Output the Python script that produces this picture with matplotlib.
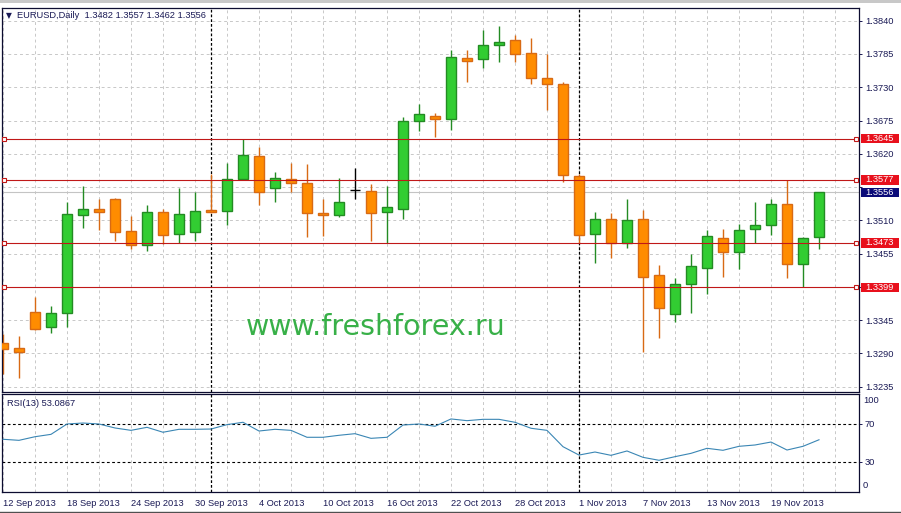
import matplotlib
matplotlib.use('Agg')
import matplotlib.pyplot as plt
from matplotlib.patches import Rectangle
from matplotlib.lines import Line2D
from matplotlib.transforms import IdentityTransform

# ---------------- data ----------------
header_symbol = "EURUSD,Daily"
header_ohlc = "1.3482 1.3557 1.3462 1.3556"
rsi_title = "RSI(13) 53.0867"
watermark = "www.freshforex.ru"

opens = [1.3307, 1.3299, 1.3358, 1.3333, 1.3356, 1.3518, 1.3528, 1.3546, 1.3492, 1.3470,
         1.3523, 1.3487, 1.3491, 1.3527, 1.3525, 1.3578, 1.3616, 1.3564, 1.3578, 1.3571,
         1.3522, 1.3518, 1.3560, 1.3558, 1.3523, 1.3529, 1.3674, 1.3682, 1.3678, 1.3778,
         1.3776, 1.3799, 1.3808, 1.3786, 1.3745, 1.3735, 1.3584, 1.3487, 1.3513, 1.3472,
         1.3512, 1.3419, 1.3355, 1.3404, 1.3432, 1.3480, 1.3457, 1.3495, 1.3502, 1.3537,
         1.3437, 1.3482]
highs = [1.3322, 1.3319, 1.3384, 1.3368, 1.3541, 1.3567, 1.3546, 1.3547, 1.3517, 1.3535,
         1.3529, 1.3564, 1.3556, 1.3587, 1.3605, 1.3644, 1.3632, 1.3590, 1.3605, 1.3603,
         1.3545, 1.3580, 1.3596, 1.3570, 1.3567, 1.3680, 1.3702, 1.3687, 1.3792, 1.3792,
         1.3825, 1.3831, 1.3816, 1.3811, 1.3785, 1.3739, 1.3586, 1.3523, 1.3522, 1.3546,
         1.3527, 1.3436, 1.3415, 1.3454, 1.3494, 1.3495, 1.3504, 1.3540, 1.3545, 1.3576,
         1.3483, 1.3557]
lows = [1.3256, 1.3250, 1.3328, 1.3323, 1.3334, 1.3498, 1.3494, 1.3476, 1.3462, 1.3460,
        1.3471, 1.3473, 1.3475, 1.3522, 1.3502, 1.3577, 1.3535, 1.3541, 1.3556, 1.3483,
        1.3484, 1.3516, 1.3545, 1.3476, 1.3472, 1.3512, 1.3658, 1.3648, 1.3659, 1.3739,
        1.3762, 1.3772, 1.3772, 1.3735, 1.3692, 1.3574, 1.3473, 1.3440, 1.3447, 1.3465,
        1.3293, 1.3315, 1.3342, 1.3356, 1.3388, 1.3416, 1.3429, 1.3473, 1.3485, 1.3414,
        1.3399, 1.3462]
closes = [1.3297, 1.3292, 1.3331, 1.3356, 1.3520, 1.3528, 1.3523, 1.3490, 1.3470, 1.3523,
          1.3485, 1.3520, 1.3525, 1.3523, 1.3578, 1.3618, 1.3556, 1.3580, 1.3571, 1.3522,
          1.3518, 1.3541, 1.3560, 1.3522, 1.3532, 1.3674, 1.3685, 1.3678, 1.3780, 1.3774,
          1.3799, 1.3804, 1.3785, 1.3745, 1.3735, 1.3585, 1.3485, 1.3512, 1.3472, 1.3510,
          1.3416, 1.3365, 1.3404, 1.3434, 1.3484, 1.3457, 1.3494, 1.3503, 1.3537, 1.3437,
          1.3480, 1.3556]
rsi = [53.6, 52.5, 56.3, 58.8, 69.7, 70.7, 69.7, 65.5, 63.0, 66.2,
       61.0, 64.1, 64.1, 64.4, 69.0, 71.5, 62.3, 64.1, 63.0, 55.7,
       55.7, 57.8, 59.5, 54.6, 55.7, 68.6, 69.7, 67.3, 75.0, 73.2,
       74.6, 74.6, 71.5, 65.2, 63.0, 45.8, 37.0, 40.2, 36.7, 41.3,
       34.6, 31.5, 35.3, 38.8, 44.1, 42.0, 46.2, 47.6, 50.7, 42.3,
       46.2, 53.09]
date_labels = ["12 Sep 2013", "18 Sep 2013", "24 Sep 2013", "30 Sep 2013", "4 Oct 2013",
               "10 Oct 2013", "16 Oct 2013", "22 Oct 2013", "28 Oct 2013", "1 Nov 2013",
               "7 Nov 2013", "13 Nov 2013", "19 Nov 2013"]
label_every = 4          # bars between date labels
month_start_bars = [13, 36]
levels = [1.3645, 1.3577, 1.3473, 1.3399]
last_price = 1.3556
price_ticks = [1.3840, 1.3785, 1.3730, 1.3675, 1.3620, 1.3565, 1.3510, 1.3455,
               1.3400, 1.3345, 1.3290, 1.3235]
hidden_ticks = [1.3565, 1.3400]   # covered by the price boxes in the terminal
rsi_levels = [70, 30]

# ---------------- style ----------------
NAVY = '#1a1a55'
GRID = '#c8c8c8'
BULL_FACE, BULL_EDGE = '#32cd32', '#238b23'
BEAR_FACE, BEAR_EDGE = '#ff8c00', '#d86a14'
RED_LINE = '#c01818'
RED_BOX = '#e8101c'
FONT = ['Liberation Sans', 'DejaVu Sans']
FS = 6.7

plt.rcParams['font.family'] = FONT

W, H = 901, 513
fig = plt.figure(figsize=(W / 100, H / 100), dpi=100)
fig.patch.set_facecolor('white')

L, R = 1.5, 859.0
TOP, MAIN_BOT, RSI_TOP, RSI_BOT = 7.5, 392.0, 394.0, 492.3
ax = fig.add_axes([L / W, 1 - MAIN_BOT / H, (R - L) / W, (MAIN_BOT - TOP) / H])
axr = fig.add_axes([L / W, 1 - RSI_BOT / H, (R - L) / W, (RSI_BOT - RSI_TOP) / H])

n = len(opens)
xs = list(range(n))
xmin, xmax = (L - 3) / 16, (R - 3) / 16
for a in (ax, axr):
    a.set_xlim(xmin, xmax)
    a.set_facecolor('white')
    for s in a.spines.values():
        s.set_color('#0c0c30')
        s.set_linewidth(0.9)

ax.set_ylim(1.32262, 1.38618)
axr.set_ylim(-2.2, 101.26)

# grid
grid_x = list(range(0, int(xmax) + 1, 2))
ax.set_xticks(grid_x)
ax.set_yticks(price_ticks)
ax.set_yticklabels(['' if t in hidden_ticks else f'{t:.4f}' for t in price_ticks])
ax.grid(True, color=GRID, linestyle=(0, (3, 3)), linewidth=0.7, zorder=0)
ax.set_axisbelow(True)
ax.tick_params(axis='x', length=0, labelbottom=False)
ax.yaxis.tick_right()
ax.tick_params(axis='y', right=True, left=False, length=2.2, width=0.7, color=NAVY,
               labelsize=FS, labelcolor=NAVY, pad=2.2)

axr.set_xticks(grid_x)
xl = []
for g in grid_x:
    if g % label_every == 0 and g // label_every < len(date_labels):
        xl.append(date_labels[g // label_every])
    else:
        xl.append('')
axr.set_xticklabels(xl)
for lb in axr.get_xticklabels():
    lb.set_horizontalalignment('left')
axr.tick_params(axis='x', length=0, labelsize=FS, labelcolor=NAVY, pad=4.5)
axr.xaxis.grid(True, color=GRID, linestyle=(0, (3, 3)), linewidth=0.7, zorder=0)
axr.set_axisbelow(True)
axr.yaxis.tick_right()
axr.set_yticks(rsi_levels)
axr.set_yticklabels([str(v) for v in rsi_levels])
axr.tick_params(axis='y', right=True, left=False, length=2.2, width=0.7, color=NAVY,
                labelsize=FS, labelcolor=NAVY, pad=1.5)
axr.text(1.0045, 0.932, '100', transform=axr.transAxes, ha='left', va='center',
         fontsize=FS, color=NAVY, clip_on=False)
axr.text(1.0045, 0.067, '0', transform=axr.transAxes, ha='left', va='center',
         fontsize=FS, color=NAVY, clip_on=False)

# month separators
for m in month_start_bars:
    for a in (ax, axr):
        a.axvline(m, color='black', linestyle=(0, (2.2, 1.6)), linewidth=0.9, zorder=1)

# bid line
ax.axhline(last_price, color='#c4c4c4', linewidth=0.8, zorder=1)

# candles
bw = 0.62
for i in xs:
    o, h, l, c = opens[i], highs[i], lows[i], closes[i]
    if c > o:
        face, edge = BULL_FACE, BULL_EDGE
    elif c < o:
        face, edge = BEAR_FACE, BEAR_EDGE
    else:
        face, edge = 'black', 'black'
    ax.vlines(i, l, h, color=edge, linewidth=1.0, zorder=2)
    if c != o:
        ax.bar(i, abs(c - o), bottom=min(o, c), width=bw, color=face, edgecolor=edge,
               linewidth=1.0, zorder=3)
    else:
        ax.hlines(o, i - bw / 2, i + bw / 2, color=edge, linewidth=1.0, zorder=3)

# horizontal levels
ytr = ax.get_yaxis_transform()
for lv in levels:
    ax.axhline(lv, color=RED_LINE, linewidth=0.8, zorder=4)
    ax.plot([0.003, 0.9965], [lv, lv], transform=ytr, linestyle='none', marker='s',
            markersize=3.2, markerfacecolor='white', markeredgecolor=RED_LINE,
            markeredgewidth=0.8, zorder=5, clip_on=False)

# RSI
axr.plot(xs, rsi, color='#3a86b4', linewidth=0.8, zorder=3)
for lv in rsi_levels:
    axr.axhline(lv, color='black', linestyle=(0, (2.5, 2.2)), linewidth=0.8, zorder=2)

# texts
ax.text(0.0085, 0.9787, '\u25BC', transform=ax.transAxes, ha='center', va='center',
        fontsize=5.5, color=NAVY, family=['DejaVu Sans'])
ax.text(0.0186, 0.9787, header_symbol + '  ' + header_ohlc, transform=ax.transAxes,
        ha='left', va='center', fontsize=FS, color=NAVY)
axr.text(0.006, 0.905, rsi_title, transform=axr.transAxes, ha='left', va='center',
         fontsize=FS, color=NAVY)
ax.text(0.4367, 0.169, watermark, transform=ax.transAxes, ha='center', va='center',
        fontsize=20.5, color='#38b048', family=['DejaVu Sans'], zorder=6)

# price boxes on the right axis
fig.canvas.draw()


def price_box(value, fc):
    _, yp = ax.transData.transform((0, value))
    x0 = R + 2.0
    fig.add_artist(Rectangle((x0, yp - 4.8), 37.5, 9.6, transform=IdentityTransform(),
                             facecolor=fc, edgecolor='none', zorder=10))
    fig.text((x0 + 4.5) / W, yp / H, f'{value:.4f}', ha='left', va='center',
             fontsize=FS, color='white', zorder=11)


for lv in levels:
    price_box(lv, RED_BOX)
price_box(last_price, '#0a0a78')

# window frame bits
fig.add_artist(Rectangle((0, 1 - 3.3 / H), 1, 3.3 / H, transform=fig.transFigure,
                         facecolor='#c8c8c8', edgecolor='none', zorder=0))
fig.add_artist(Line2D([0, 1], [1 - 511.6 / H] * 2, transform=fig.transFigure,
                      color='#505050', linewidth=1.0))

fig.savefig('out.png', dpi=100, facecolor='white')
